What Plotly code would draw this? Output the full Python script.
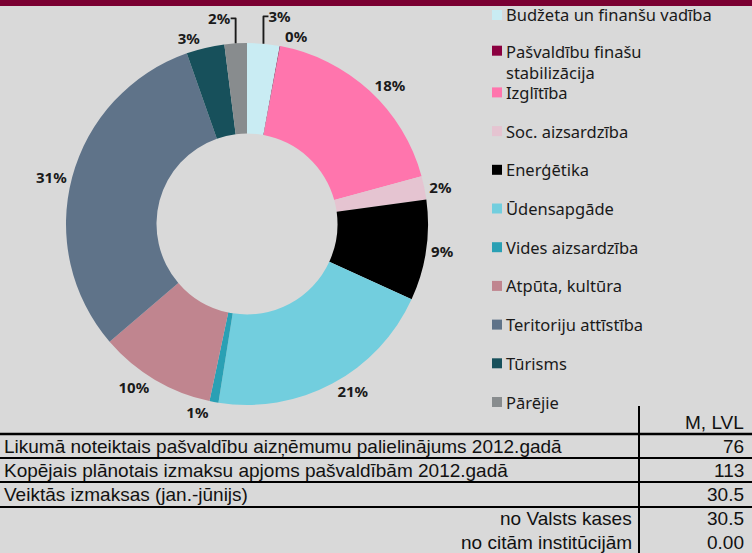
import plotly.graph_objects as go

W, H = 752, 553

categories = ["Budžeta un finanšu vadība", "Pašvaldību finašu stabilizācija", "Izglītība",
              "Soc. aizsardzība", "Enerģētika", "Ūdensapgāde", "Vides aizsardzība",
              "Atpūta, kultūra", "Teritoriju attīstība", "Tūrisms", "Pārējie"]
shares = [2.9, 0.05, 17.8, 2.1, 9.0, 20.7, 0.8, 10.4, 30.9, 3.4, 2.0]
colors = ["#c9ecf3", "#8b0040", "#ff75ad", "#e5c4d1", "#000000", "#72cede",
          "#2aa0b4", "#c0858f", "#5f7389", "#17505b", "#888c8e"]
legend_display = ["Budžeta un finanšu vadība", "Pašvaldību finašu<br>stabilizācija", "Izglītība",
                  "Soc. aizsardzība", "Enerģētika", "Ūdensapgāde", "Vides aizsardzība",
                  "Atpūta, kultūra", "Teritoriju attīstība", "Tūrisms", "Pārējie"]

table_header = "M, LVL"
table_labels = ["Likumā noteiktais pašvaldību aizņēmumu palielinājums 2012.gadā",
                "Kopējais plānotais izmaksu apjoms pašvaldībām 2012.gadā",
                "Veiktās izmaksas (jan.-jūnijs)",
                "no Valsts kases",
                "no citām institūcijām"]
table_values = ["76", "113", "30.5", "30.5", "0.00"]
table_indent = [False, False, False, True, True]


def px(x):
    return x / W


def py(y):
    return 1 - y / H


fig = go.Figure()

cx, cy, r = 247, 224, 181
fig.add_trace(go.Pie(
    labels=categories, values=shares, sort=False, direction="clockwise", rotation=0,
    hole=0.5, marker=dict(colors=colors, line=dict(width=0)),
    textposition="outside", texttemplate="%{percent:.0%}", automargin=False,
    textfont=dict(family="Noto Sans", size=15, color="#1a1a1a", weight="bold"),
    domain=dict(x=[px(cx - r), px(cx + r)], y=[py(cy + r), py(cy - r)]),
    showlegend=False, hoverinfo="label+percent",
))

shapes = []
annotations = []

# top maroon bar
shapes.append(dict(type="rect", xref="paper", yref="paper", x0=0, x1=1, y0=py(6), y1=1,
                   fillcolor="#7a0032", line=dict(width=0), layer="below"))

# legend (built from the category lists)
leg_y0, leg_step = 15, 38.7
lfont = dict(family="Noto Sans", size=16.5, color="#1a1a1a")
for i, (lab, col) in enumerate(zip(legend_display, colors)):
    yc = leg_y0 + i * leg_step
    if "<br>" in lab:
        yc -= 3
        annotations.append(dict(x=px(505), y=py(yc - 11.5), xref="paper", yref="paper",
                                text=lab, showarrow=False, xanchor="left", yanchor="top",
                                align="left", font=lfont, borderpad=0))
    else:
        annotations.append(dict(x=px(505), y=py(yc), xref="paper", yref="paper",
                                text=lab, showarrow=False, xanchor="left", yanchor="middle",
                                font=lfont, borderpad=0))
    shapes.append(dict(type="rect", xref="paper", yref="paper",
                       x0=px(492), x1=px(502), y0=py(yc + 5), y1=py(yc - 5),
                       fillcolor=col, line=dict(width=0)))

# table
shapes.append(dict(type="line", xref="paper", yref="paper", x0=px(639), x1=px(639),
                   y0=0, y1=py(406), line=dict(color="black", width=2)))
for yl, wl in [(434, 2.5), (458, 2), (482, 2), (507, 2)]:
    shapes.append(dict(type="line", xref="paper", yref="paper", x0=0, x1=1,
                       y0=py(yl), y1=py(yl), line=dict(color="black", width=wl)))

tfont = dict(family="Liberation Sans, Arial", size=19, color="#111")
annotations.append(dict(x=px(746), y=py(422), xref="paper", yref="paper", text=table_header,
                        showarrow=False, xanchor="right", yanchor="middle", font=tfont))
row_y = [446, 470, 494, 518, 542]
for lab, val, ind, yc in zip(table_labels, table_values, table_indent, row_y):
    if ind:
        annotations.append(dict(x=px(634), y=py(yc), xref="paper", yref="paper", text=lab,
                                showarrow=False, xanchor="right", yanchor="middle", font=tfont))
    else:
        annotations.append(dict(x=px(2), y=py(yc), xref="paper", yref="paper", text=lab,
                                showarrow=False, xanchor="left", yanchor="middle", font=tfont))
    annotations.append(dict(x=px(746), y=py(yc), xref="paper", yref="paper", text=val,
                            showarrow=False, xanchor="right", yanchor="middle", font=tfont))

fig.update_layout(
    width=W, height=H, margin=dict(l=0, r=0, t=0, b=0, autoexpand=False),
    paper_bgcolor="#d9d9d9", plot_bgcolor="#d9d9d9",
    shapes=shapes, annotations=annotations,
)

fig.write_html("out.html", config={"displayModeBar": False},
               post_script="document.body.style.margin='0';document.body.style.overflow='hidden';")
